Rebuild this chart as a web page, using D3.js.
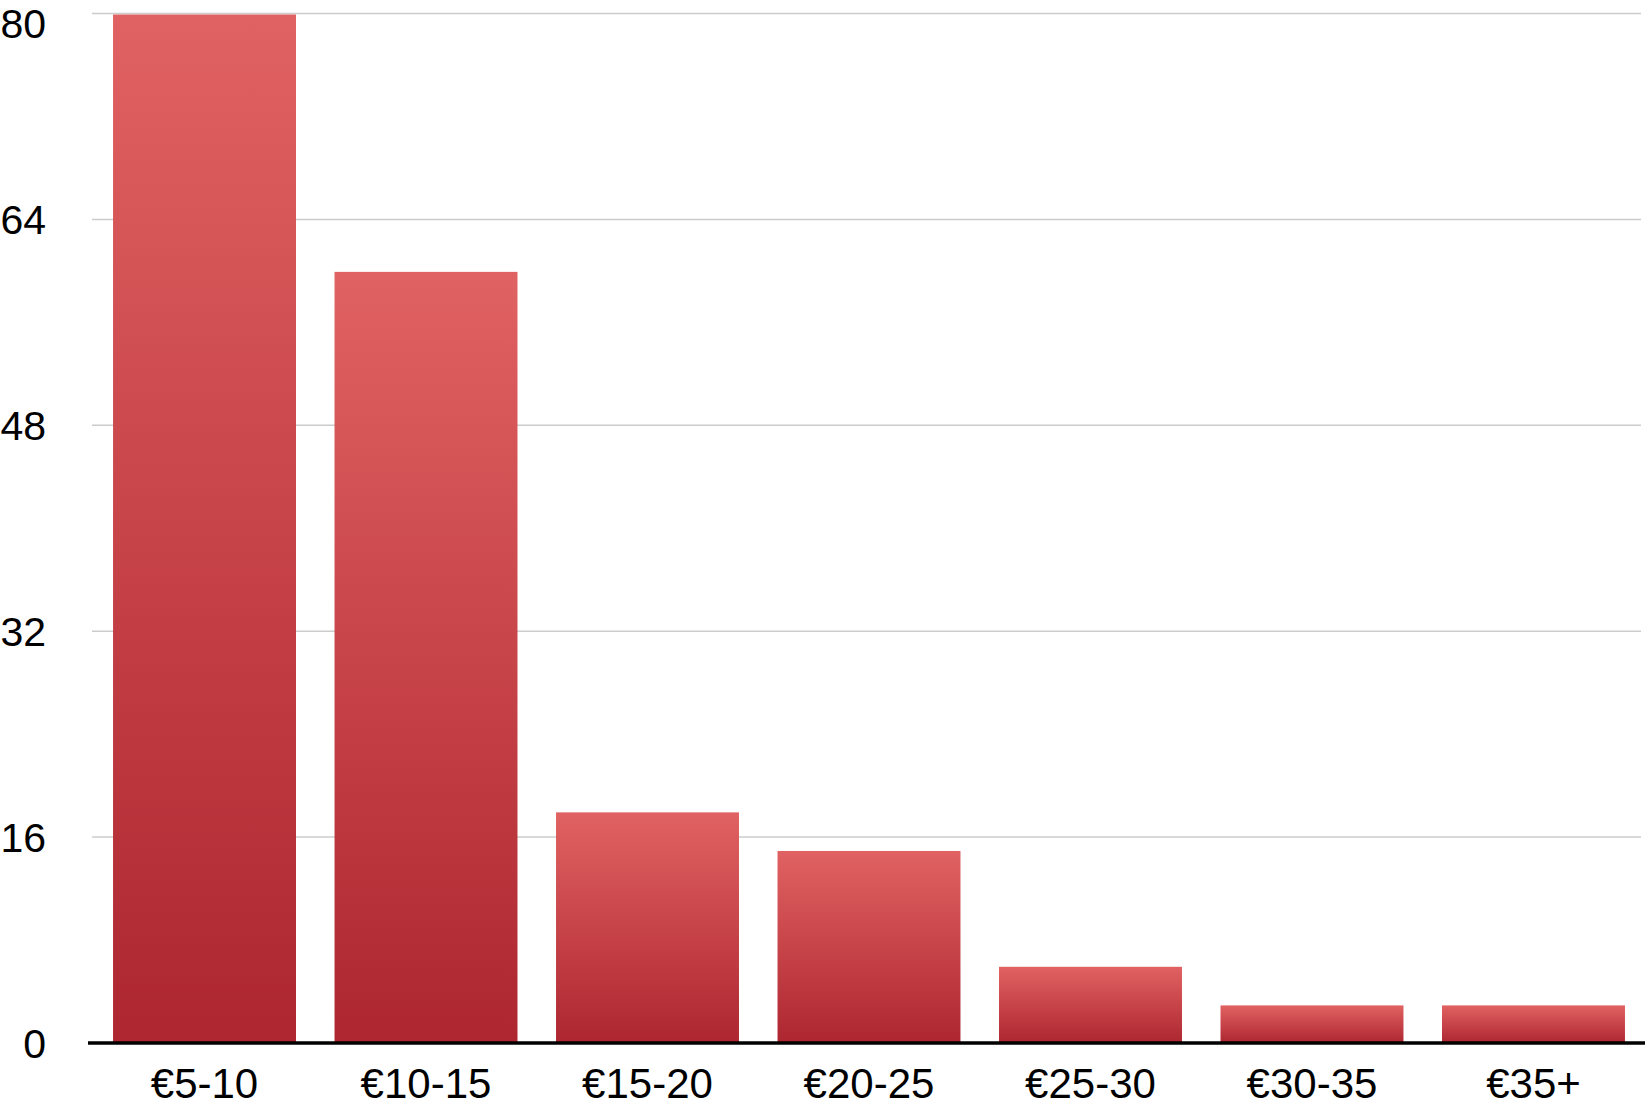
<!DOCTYPE html>
<html>
<head>
<meta charset="utf-8">
<script src="https://cdn.jsdelivr.net/npm/d3@7"></script>
<style>
  html, body { margin: 0; padding: 0; background: #fff; }
  svg { display: block; }
  text { font-family: "Liberation Sans", Arial, Helvetica, sans-serif; fill: #000; }
</style>
</head>
<body>
<svg id="chart" width="1645" height="1107"></svg>
<script>
const categories = ["€5-10", "€10-15", "€15-20", "€20-25", "€25-30", "€30-35", "€35+"];
const values = [80, 60, 18, 15, 6, 3, 3];
const yTicks = [0, 16, 32, 48, 64, 80];

const W = 1645, H = 1107;
const svg = d3.select("#chart");

const x = d3.scaleBand()
  .domain(categories)
  .range([92, 1646])
  .paddingInner(0.174)
  .paddingOuter(0.095);

const y = d3.scaleLinear()
  .domain([0, 80])
  .range([1043, 13.5]);

const defs = svg.append("defs");
const grad = defs.append("linearGradient")
  .attr("id", "barGrad")
  .attr("x1", 0).attr("y1", 0).attr("x2", 0).attr("y2", 1);
grad.append("stop").attr("offset", "0%").attr("stop-color", "#e16262");
grad.append("stop").attr("offset", "100%").attr("stop-color", "#ad2630");

// gridlines
svg.append("g")
  .selectAll("line")
  .data(yTicks.filter(d => d !== 0))
  .join("line")
  .attr("x1", 92).attr("x2", 1641)
  .attr("y1", d => y(d)).attr("y2", d => y(d))
  .attr("stroke", "#cccccc")
  .attr("stroke-width", 1.5);

// y tick labels
const yFont = 41;
svg.append("g")
  .selectAll("text")
  .data(yTicks)
  .join("text")
  .attr("x", 46)
  .attr("y", d => Math.max(y(d) + 0.36 * yFont, 38))
  .attr("text-anchor", "end")
  .attr("font-size", yFont)
  .text(d => d);

// bars
svg.append("g")
  .selectAll("rect")
  .data(values)
  .join("rect")
  .attr("x", (d, i) => x(categories[i]))
  .attr("width", x.bandwidth())
  .attr("y", d => y(d) + 1)
  .attr("height", d => y(0) - y(d) - 1)
  .attr("fill", "url(#barGrad)");

// baseline
svg.append("line")
  .attr("x1", 88).attr("x2", W)
  .attr("y1", y(0)).attr("y2", y(0))
  .attr("stroke", "#000")
  .attr("stroke-width", 3.5);

// category labels
svg.append("g")
  .selectAll("text")
  .data(categories)
  .join("text")
  .attr("x", d => x(d) + x.bandwidth() / 2)
  .attr("y", 1098)
  .attr("text-anchor", "middle")
  .attr("font-size", 42)
  .text(d => d);
</script>
</body>
</html>
